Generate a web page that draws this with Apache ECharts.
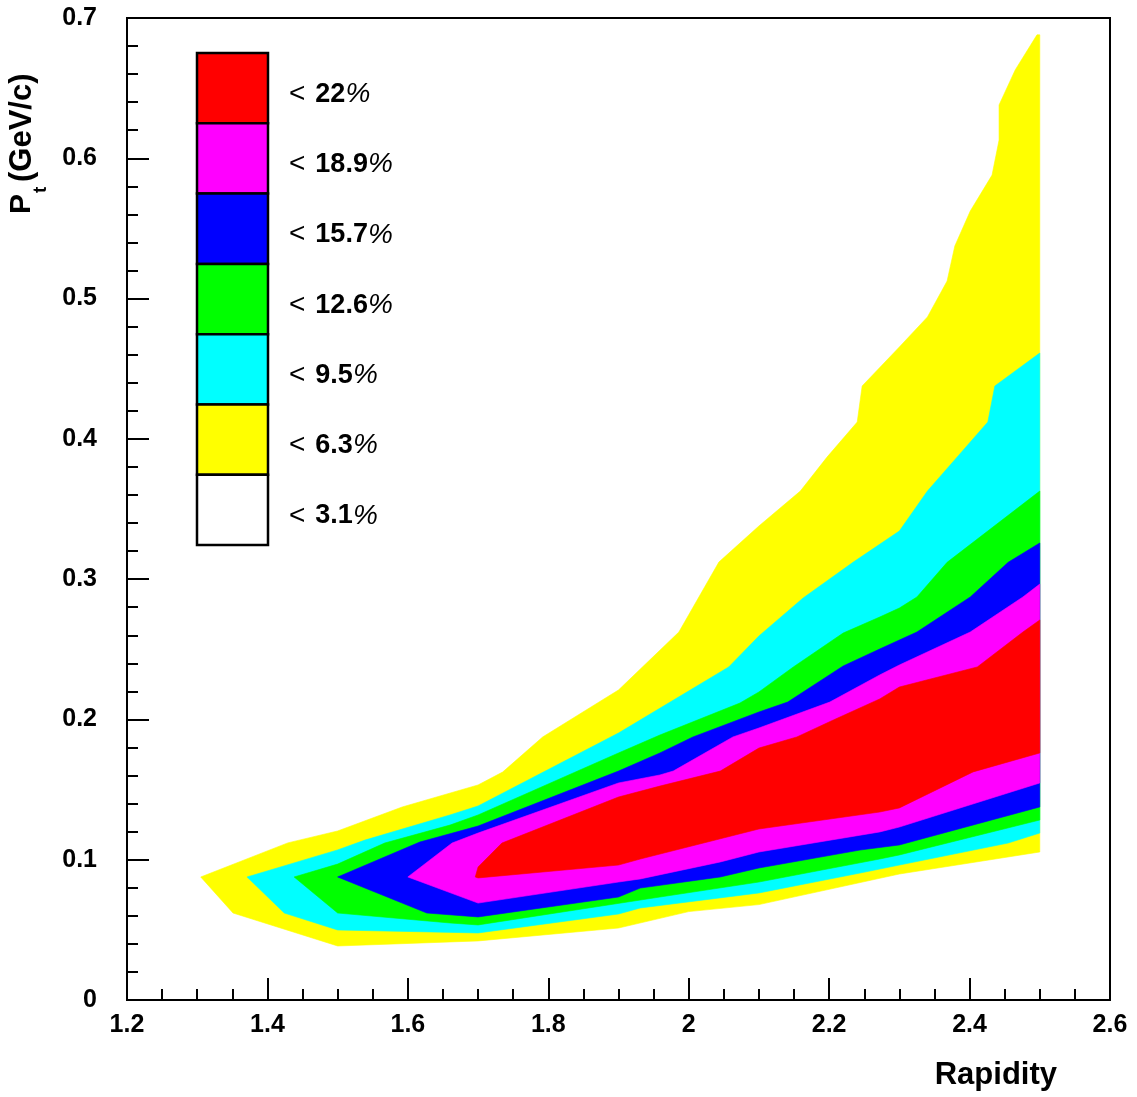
<!DOCTYPE html>
<html>
<head>
<meta charset="utf-8">
<script src="https://cdn.jsdelivr.net/npm/echarts@6/dist/echarts.min.js"></script>
<style>
html,body{margin:0;padding:0;background:#fff;}
#chart{width:1137px;height:1097px;}
</style>
</head>
<body>
<div id="chart"></div>
<script>
// ---- Data (Rapidity, Pt) contour regions ----
const xTicks = [1.2, 1.4, 1.6, 1.8, 2.0, 2.2, 2.4, 2.6];
const yTicks = [0, 0.1, 0.2, 0.3, 0.4, 0.5, 0.6, 0.7];

const levelLabels = ['22', '18.9', '15.7', '12.6', '9.5', '6.3', '3.1'];
const levelColors = ['#ff0000', '#ff00ff', '#0000ff', '#00ff00', '#00ffff', '#ffff00', '#ffffff'];

// region with resolution < 6.3% (yellow)
const region63 = [
  [1.305,0.0877],[1.429,0.112],[1.5,0.1205],[1.592,0.1376],[1.7,0.1533],[1.735,0.1625],[1.792,0.1875],
  [1.9,0.221],[1.986,0.2623],[2.043,0.3122],[2.1,0.3379],[2.159,0.3628],[2.197,0.387],[2.24,0.412],
  [2.247,0.4377],[2.3,0.4655],[2.34,0.4869],[2.368,0.5125],[2.379,0.5375],[2.401,0.5624],[2.432,0.588],
  [2.442,0.613],[2.442,0.638],[2.465,0.663],[2.496,0.688],[2.5,0.688],
  [2.5,0.1055],[2.3,0.0898],[2.1,0.068],[2.0,0.063],[1.9,0.0513],[1.7,0.0421],[1.5,0.0385],[1.351,0.062]
];
// < 9.5% (cyan)
const region95 = [
  [1.371,0.0877],[1.5,0.107],[1.539,0.114],[1.66,0.1319],[1.7,0.1383],[1.9,0.1903],[2.057,0.2374],
  [2.1,0.2595],[2.163,0.2866],[2.234,0.312],[2.3,0.3343],[2.34,0.3628],[2.384,0.388],[2.426,0.412],
  [2.436,0.4377],[2.5,0.4612],
  [2.5,0.119],[2.455,0.1119],[2.3,0.0962],[2.244,0.0905],[2.1,0.0763],[1.931,0.0656],[1.9,0.0613],
  [1.7,0.0478],[1.5,0.0499],[1.424,0.062]
];
// < 12.6% (green)
const region126 = [
  [1.438,0.0877],[1.5,0.0969],[1.567,0.1119],[1.66,0.1247],[1.7,0.1319],[1.9,0.1761],[1.959,0.1889],
  [2.073,0.2117],[2.1,0.2196],[2.149,0.2374],[2.22,0.2616],[2.272,0.273],[2.3,0.2794],[2.325,0.2873],
  [2.368,0.312],[2.5,0.3628],
  [2.5,0.1283],[2.3,0.1034],[2.272,0.1005],[2.1,0.0841],[1.959,0.0734],[1.7,0.0535],[1.66,0.0549],[1.5,0.062]
];
// < 15.7% (blue)
const region157 = [
  [1.5,0.0877],[1.617,0.1126],[1.7,0.124],[1.9,0.1632],[1.959,0.1761],[2.006,0.1875],[2.1,0.2053],
  [2.141,0.2124],[2.22,0.2381],[2.272,0.2502],[2.3,0.2566],[2.325,0.2623],[2.401,0.2873],[2.455,0.312],
  [2.5,0.3258],
  [2.5,0.1376],[2.3,0.1105],[2.244,0.1069],[2.1,0.0941],[2.045,0.0877],[1.931,0.0798],[1.9,0.0734],
  [1.7,0.0592],[1.627,0.062]
];
// < 18.9% (magenta)
const region189 = [
  [1.6,0.0877],[1.663,0.1119],[1.7,0.119],[1.9,0.1547],[1.959,0.1604],[1.978,0.1632],[2.063,0.1875],
  [2.1,0.1939],[2.201,0.2124],[2.272,0.2317],[2.3,0.2388],[2.401,0.2623],[2.476,0.2873],[2.5,0.2965],
  [2.5,0.1547],[2.3,0.1233],[2.272,0.1198],[2.1,0.1055],[2.045,0.0984],[1.931,0.0863],[1.9,0.0841],[1.7,0.0691]
];
// < 22% (red)
const region220 = [
  [1.696,0.0877],[1.7,0.0948],[1.734,0.1119],[1.9,0.1447],[1.959,0.1525],[2.045,0.1632],[2.1,0.1796],
  [2.154,0.1875],[2.206,0.1996],[2.272,0.2146],[2.3,0.2231],[2.411,0.2374],[2.476,0.2623],[2.5,0.2709],
  [2.5,0.1761],[2.405,0.1626],[2.3,0.1369],[2.272,0.134],[2.1,0.1219],[1.931,0.1005],[1.9,0.0962],[1.7,0.087]
];

// drawing order: outer (lowest level) first
const regions = [region63, region95, region126, region157, region189, region220];
const regionColors = ['#ffff00', '#00ffff', '#00ff00', '#0000ff', '#ff00ff', '#ff0000'];

const FONT = '"Liberation Sans", Arial, Helvetica, sans-serif';

function polySeries(points, color) {
  return {
    type: 'custom',
    coordinateSystem: 'cartesian2d',
    data: points,
    encode: { x: 0, y: 1 },
    silent: true,
    animation: false,
    clip: true,
    renderItem: function (params, api) {
      if (params.dataIndex !== 0) return null;
      const pts = points.map(function (p) { return api.coord(p); });
      return {
        type: 'polygon',
        shape: { points: pts },
        style: { fill: color, stroke: color, lineWidth: 0.6 }
      };
    }
  };
}

const chart = echarts.init(document.getElementById('chart'), null, { renderer: 'canvas' });

// legend graphics
const legendX = 197, legendTop = 53, cellH = 70.3, cellW = 71;
const graphics = [];
levelLabels.forEach(function (lab, i) {
  graphics.push({
    type: 'rect',
    shape: { x: legendX, y: legendTop + i * cellH, width: cellW, height: cellH },
    style: { fill: levelColors[i], stroke: '#000', lineWidth: 2.5 },
    z: 100
  });
  graphics.push({
    type: 'text',
    x: 289,
    y: legendTop + i * cellH + cellH / 2 + 6,
    style: {
      text: '{lt|<}{num|' + lab + '}{pct|%}',
      align: 'left', verticalAlign: 'middle',
      textAlign: 'left', textVerticalAlign: 'middle',
      fill: '#000',
      rich: {
        lt: { fontSize: 28, fontWeight: 'normal', fontFamily: FONT, fill: '#000', padding: [0, 10, 0, 0] },
        num: { fontSize: 27, fontWeight: 'bold', fontFamily: FONT, fill: '#000' },
        pct: { fontSize: 28, fontWeight: 'normal', fontStyle: 'italic', fontFamily: FONT, fill: '#000' }
      }
    },
    z: 100
  });
});

// y-axis title (rotated)
graphics.push({
  type: 'group',
  x: 33, y: 214,
  rotation: Math.PI / 2,
  children: [
    { type: 'text', x: 0, y: -11, style: { text: 'P', font: 'bold 30px ' + FONT, fill: '#000', align: 'left', verticalAlign: 'middle', textAlign: 'left', textVerticalAlign: 'middle' } },
    { type: 'text', x: 21, y: 8, style: { text: 't', font: 'bold 19px ' + FONT, fill: '#000', align: 'left', verticalAlign: 'middle', textAlign: 'left', textVerticalAlign: 'middle' } },
    { type: 'text', x: 32, y: -11, style: { text: '(GeV/c)', font: 'bold 31px ' + FONT, fill: '#000', align: 'left', verticalAlign: 'middle', textAlign: 'left', textVerticalAlign: 'middle' } }
  ],
  z: 100
});
// x-axis title
graphics.push({
  type: 'text',
  x: 1057, y: 1075,
  style: { text: 'Rapidity', font: 'bold 31px ' + FONT, fill: '#000', align: 'right', verticalAlign: 'middle', textAlign: 'right', textVerticalAlign: 'middle' },
  z: 100
});

const option = {
  backgroundColor: '#ffffff',
  animation: false,
  grid: {
    left: 127, top: 18, right: 27, bottom: 97,
    show: true, borderColor: '#000', borderWidth: 2, backgroundColor: 'transparent',
    containLabel: false
  },
  xAxis: {
    type: 'value',
    min: xTicks[0], max: xTicks[xTicks.length - 1], interval: 0.2,
    axisLine: { show: true, onZero: false, lineStyle: { color: '#000', width: 2 } },
    axisTick: { show: true, inside: true, length: 22, lineStyle: { color: '#000', width: 2 } },
    minorTick: { show: true, splitNumber: 4, length: 11, lineStyle: { color: '#000', width: 2 } },
    splitLine: { show: false },
    minorSplitLine: { show: false },
    axisLabel: { color: '#000', fontSize: 25, fontWeight: 'bold', fontFamily: FONT, margin: 13 }
  },
  yAxis: {
    type: 'value',
    min: yTicks[0], max: yTicks[yTicks.length - 1], interval: 0.1,
    axisLine: { show: true, onZero: false, lineStyle: { color: '#000', width: 2 } },
    axisTick: { show: true, inside: true, length: 22, lineStyle: { color: '#000', width: 2 } },
    minorTick: { show: true, splitNumber: 5, length: 11, lineStyle: { color: '#000', width: 2 } },
    splitLine: { show: false },
    minorSplitLine: { show: false },
    axisLabel: { color: '#000', fontSize: 25, fontWeight: 'bold', fontFamily: FONT, margin: 30 }
  },
  series: regions.map(function (r, i) { return polySeries(r, regionColors[i]); }),
  graphic: graphics
};

chart.setOption(option);
</script>
</body>
</html>
